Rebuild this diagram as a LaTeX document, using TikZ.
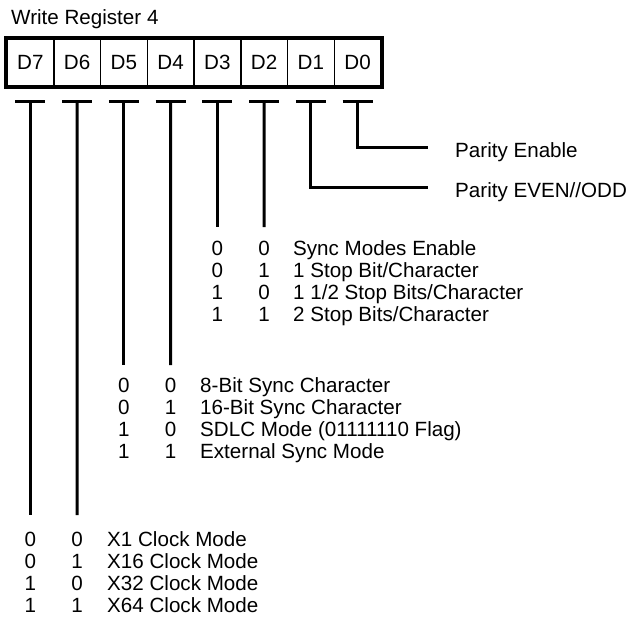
\documentclass[tikz,border=0pt]{standalone}
\usepackage{fontspec}
\setmainfont{Liberation Sans}
\usetikzlibrary{positioning}

\begin{document}
\begin{tikzpicture}[
  x=1pt, y=-1pt,
  lbl/.style={font=\fontsize{20.6}{23}\selectfont, inner sep=0pt},
  bitcell/.style={draw, line width=1.5pt, minimum width=46.75pt, minimum height=47pt, inner sep=0pt, font=\fontsize{20.6}{23}\selectfont},
  frame/.style={line width=4pt},
  wire/.style={line width=3pt}
]
  \useasboundingbox (0,0) rectangle (631,622);
  \node[lbl, anchor=base west] (title) at (11,24) {Write Register 4};

  % register bits
  \foreach \b [count=\i from 0] in {7,6,5,4,3,2,1,0}
    \node[bitcell] (d\b) at ({30.4+46.75*\i},62.5) {D\b};
  \draw[frame] (d7.north west) rectangle (d0.south east);

  % tee under each bit
  \foreach \b in {0,...,7} {
    \coordinate (t\b) at ([yshift=-15pt]d\b.south);
    \draw[wire] ([xshift=-15pt]t\b) -- ([xshift=15pt]t\b);
  }

  % D0, D1
  \node[lbl, anchor=base west] (paren) at (455,157) {Parity Enable};
  \node[lbl, anchor=base west] (pareo) at (455,197) {Parity EVEN//ODD};
  \coordinate (e0) at (428,147);
  \coordinate (e1) at (428,187);
  \draw[wire] (t0) |- (e0);
  \draw[wire] (t1) |- (e1);

  % D3, D2
  \coordinate (e3) at (217.4,227);
  \coordinate (e2) at (264.1,227);
  \draw[wire] (t3) -- (e3);
  \draw[wire] (t2) -- (e2);
  \foreach \hi/\lo/\txt [count=\r from 0] in {0/0/Sync Modes Enable, 0/1/{1 Stop Bit/Character}, 1/0/{1 1/2 Stop Bits/Character}, 1/1/{2 Stop Bits/Character}} {
    \node[lbl, anchor=base] (sa\r) at (217.4,{255+22*\r}) {\hi};
    \node[lbl, anchor=base] (sb\r) at (264.1,{255+22*\r}) {\lo};
    \node[lbl, anchor=base west] (st\r) at (293,{255+22*\r}) {\txt};
  }

  % D5, D4
  \coordinate (e5) at (123.9,365);
  \coordinate (e4) at (170.6,365);
  \draw[wire] (t5) -- (e5);
  \draw[wire] (t4) -- (e4);
  \foreach \hi/\lo/\txt [count=\r from 0] in {0/0/8-Bit Sync Character, 0/1/16-Bit Sync Character, 1/0/SDLC Mode (01111110 Flag), 1/1/External Sync Mode} {
    \node[lbl, anchor=base] (ya\r) at (123.9,{392+22*\r}) {\hi};
    \node[lbl, anchor=base] (yb\r) at (170.6,{392+22*\r}) {\lo};
    \node[lbl, anchor=base west] (yt\r) at (200,{392+22*\r}) {\txt};
  }

  % D7, D6
  \coordinate (e7) at (30.4,515);
  \coordinate (e6) at (77.1,515);
  \draw[wire] (t7) -- (e7);
  \draw[wire] (t6) -- (e6);
  \foreach \hi/\lo/\txt [count=\r from 0] in {0/0/X1 Clock Mode, 0/1/X16 Clock Mode, 1/0/X32 Clock Mode, 1/1/X64 Clock Mode} {
    \node[lbl, anchor=base] (ca\r) at (30.4,{546+22*\r}) {\hi};
    \node[lbl, anchor=base] (cb\r) at (77.1,{546+22*\r}) {\lo};
    \node[lbl, anchor=base west] (ct\r) at (107,{546+22*\r}) {\txt};
  }
\end{tikzpicture}
\end{document}
